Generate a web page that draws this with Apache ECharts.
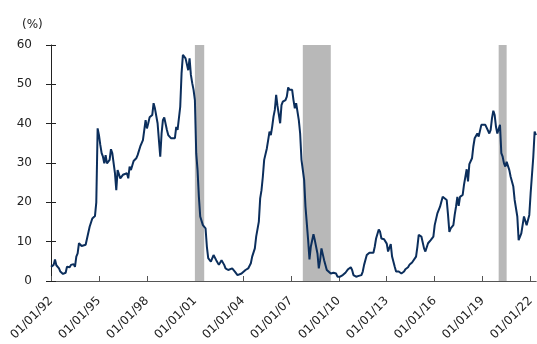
<!DOCTYPE html>
<html>
<head>
<meta charset="utf-8">
<script src="https://cdn.jsdelivr.net/npm/echarts@6/dist/echarts.min.js"></script>
<style>html,body{margin:0;padding:0;background:#fff}#c{width:537px;height:344px}</style>
</head>
<body>
<div id="c"></div>
<script>
// Monthly observations (YYYY-MM) and values in %
const dates = [
'1992-01','1992-03','1992-04','1992-05','1992-07','1992-08','1992-10','1992-11','1992-12',
'1993-01','1993-03','1993-04','1993-05','1993-06','1993-07','1993-08','1993-09','1993-10','1993-11','1993-12',
'1994-01','1994-03','1994-04','1994-06','1994-07','1994-08','1994-10','1994-11','1994-12',
'1995-01','1995-02','1995-03','1995-04','1995-05','1995-06','1995-07','1995-08','1995-09','1995-10','1995-11','1995-12',
'1996-01','1996-02','1996-03','1996-04','1996-05','1996-07','1996-08','1996-10','1996-11','1996-12',
'1997-01','1997-03','1997-05','1997-06','1997-08','1997-09','1997-10','1997-12',
'1998-01','1998-02','1998-03','1998-05','1998-06','1998-07','1998-09','1998-10','1998-11','1998-12',
'1999-01','1999-02','1999-04','1999-05','1999-07','1999-08','1999-10','1999-11','1999-12',
'2000-02','2000-03','2000-04','2000-05','2000-06','2000-07','2000-08','2000-09','2000-10','2000-11','2000-12',
'2001-01','2001-02','2001-03','2001-04','2001-05','2001-07','2001-09','2001-10','2001-11',
'2002-01','2002-02','2002-03','2002-05','2002-07','2002-08','2002-09','2002-11','2002-12',
'2003-02','2003-03','2003-05','2003-06','2003-07','2003-09','2003-10','2003-12',
'2004-01','2004-03','2004-05','2004-07','2004-08','2004-10','2004-11',
'2005-01','2005-02','2005-03','2005-04','2005-05','2005-07','2005-08','2005-09','2005-10','2005-11','2005-12',
'2006-01','2006-02','2006-03','2006-05','2006-06','2006-07','2006-09','2006-10','2006-11','2006-12',
'2007-02','2007-03','2007-04','2007-05','2007-07','2007-08','2007-09','2007-11','2007-12',
'2008-02','2008-03','2008-04','2008-06','2008-07','2008-09','2008-10','2008-11','2008-12',
'2009-02','2009-03','2009-04','2009-05','2009-07','2009-09','2009-11','2009-12',
'2010-02','2010-04','2010-06','2010-08','2010-10','2010-11','2010-12',
'2011-02','2011-04','2011-06','2011-07','2011-08','2011-10','2011-11','2011-12',
'2012-01','2012-03','2012-04','2012-05','2012-07','2012-08','2012-09','2012-10','2012-11','2012-12',
'2013-01','2013-02','2013-03','2013-04','2013-05','2013-07','2013-08','2013-10','2013-11','2013-12',
'2014-02','2014-03','2014-05','2014-06','2014-08','2014-09','2014-11','2014-12',
'2015-01','2015-03','2015-04','2015-05','2015-06','2015-07','2015-08','2015-10','2015-12',
'2016-01','2016-03','2016-04','2016-05','2016-07','2016-08','2016-10','2016-11','2016-12',
'2017-01','2017-03','2017-04','2017-05','2017-06','2017-07','2017-08','2017-10','2017-11',
'2018-01','2018-02','2018-03','2018-05','2018-06','2018-07','2018-09','2018-10','2018-12',
'2019-01','2019-03','2019-04','2019-06','2019-07','2019-08','2019-09','2019-10','2019-11','2019-12',
'2020-01','2020-02','2020-03','2020-04','2020-05','2020-06','2020-07','2020-09','2020-10','2020-12',
'2021-01','2021-03','2021-04','2021-05','2021-06','2021-08','2021-09','2021-10','2021-12',
'2022-01','2022-02','2022-03','2022-04','2022-05'
];
const values = [
3.6,4.1,5.5,4.0,3.2,2.4,1.8,1.8,2.1,
3.6,3.5,4.1,3.6,4.3,3.6,6.2,7.0,9.6,10.0,8.9,
8.5,9.2,9.6,13.8,14.2,15.9,16.5,20.0,38.8,
37.1,34.6,32.5,31.6,29.9,32.0,29.9,29.5,30.8,33.5,32.5,32.9,
27.4,23.1,28.2,28.6,26.1,27.0,26.7,27.4,26.1,29.1,
28.2,30.5,31.2,32.0,34.2,33.7,35.8,40.9,
38.8,40.1,41.6,42.2,45.2,43.9,40.1,35.8,31.6,37.5,
40.9,41.6,38.4,37.1,36.3,36.7,36.3,39.2,38.4,
44.3,52.8,57.5,57.0,56.6,56.2,53.6,56.6,52.4,50.3,48.6,
46.0,32.5,28.2,21.4,16.4,14.2,13.4,8.7,5.8,
4.9,5.3,6.6,5.3,4.1,4.5,5.3,4.1,3.2,
2.8,2.8,3.2,3.6,2.4,1.5,1.5,1.9,
2.4,2.8,3.2,4.5,6.2,8.3,11.3,
15.1,21.0,23.1,26.5,30.8,33.7,35.8,38.0,37.1,39.2,41.8,
43.5,47.3,44.5,40.1,44.7,45.6,46.0,46.9,49.2,48.6,
48.6,46.0,43.9,45.2,40.9,37.5,30.8,25.7,18.9,
10.4,5.5,8.7,11.9,10.4,7.0,3.2,5.3,8.3,
5.3,4.9,2.8,2.4,1.9,2.1,1.9,1.1,
1.1,1.5,2.1,3.0,3.5,2.8,1.5,
1.1,1.3,1.5,2.4,4.1,6.6,6.4,7.2,
7.5,7.2,8.7,10.8,13.1,12.5,10.8,11.3,10.6,10.8,
9.5,7.5,7.0,9.4,6.2,3.6,2.4,2.4,2.8,1.9,
2.4,3.0,3.5,4.1,4.7,4.9,6.2,8.7,
11.7,11.3,10.8,8.3,7.5,7.9,9.6,10.4,11.3,
14.2,17.2,17.6,18.9,21.4,21.9,20.6,16.8,12.5,
13.4,14.2,16.8,18.9,21.4,19.1,21.4,21.9,24.5,
28.4,25.3,29.7,31.2,34.2,36.3,37.5,36.7,39.7,
39.9,39.7,39.2,37.5,38.4,41.4,43.3,42.2,39.2,37.5,
38.0,39.7,32.5,31.6,29.9,29.1,30.3,28.2,26.5,24.0,
20.6,16.4,10.4,10.0,12.1,16.4,16.4,14.2,16.8,
22.3,22.7,31.6,38.0,37.1
];
// Recession periods [start, end]
const recessions = [['2001-01','2001-08'],['2007-10','2009-07'],['2020-01','2020-07']];
const yTicks = [0,10,20,30,40,50,60];
const xTickYears = [1992,1995,1998,2001,2004,2007,2010,2013,2016,2019,2022];

function toYear(s){const p=s.split('-');return +p[0]+(+p[1]-1)/12;}
const seriesData = dates.map((d,i)=>[toYear(d), values[i]]);

const FONT = 'DejaVu Sans';
const chart = echarts.init(document.getElementById('c'), null, {renderer:'canvas'});
chart.setOption({
  animation:false,
  backgroundColor:'#fff',
  title:{text:'(%)', left:17, top:14, textStyle:{fontFamily:FONT,fontSize:12,fontWeight:'normal',color:'#222'}},
  grid:{left:51,right:0,top:45,bottom:63,containLabel:false},
  xAxis:{
    type:'value', min:1992, max:2022.35, interval:3,
    axisLine:{lineStyle:{color:'#555',width:1}},
    axisTick:{inside:true,length:5,lineStyle:{color:'#555'}},
    splitLine:{show:false},
    axisLabel:{
      rotate:45, fontFamily:FONT, fontSize:12, color:'#222', margin:18, showMaxLabel:false,
      formatter:function(v){return xTickYears.indexOf(v)>=0 ? '01/01/'+String(v).slice(2) : '';}
    }
  },
  yAxis:[{
    type:'value', min:yTicks[0], max:yTicks[yTicks.length-1], interval:10,
    axisLine:{show:true,lineStyle:{color:'#222',width:1}},
    axisTick:{show:true,length:5,lineStyle:{color:'#222'}},
    splitLine:{show:false},
    axisLabel:{fontFamily:FONT,fontSize:12,color:'#222',margin:19}
  },{
    type:'value', position:'left', min:yTicks[0], max:yTicks[yTicks.length-1], interval:10,
    axisLine:{show:false},
    axisTick:{show:true,inside:true,length:5,lineStyle:{color:'#222'}},
    splitLine:{show:false}, axisLabel:{show:false}
  }],
  series:[{
    type:'line', data:[], silent:true, z:1,
    markArea:{silent:true, itemStyle:{color:'#b8b8b8',opacity:1},
      data:recessions.map(r=>[{xAxis:toYear(r[0])},{xAxis:toYear(r[1])}])}
  },{
    type:'line', data:seriesData, showSymbol:false, symbol:'none', z:5,
    lineStyle:{color:'#0b2e5c',width:2}
  }]
});
</script>
</body>
</html>
